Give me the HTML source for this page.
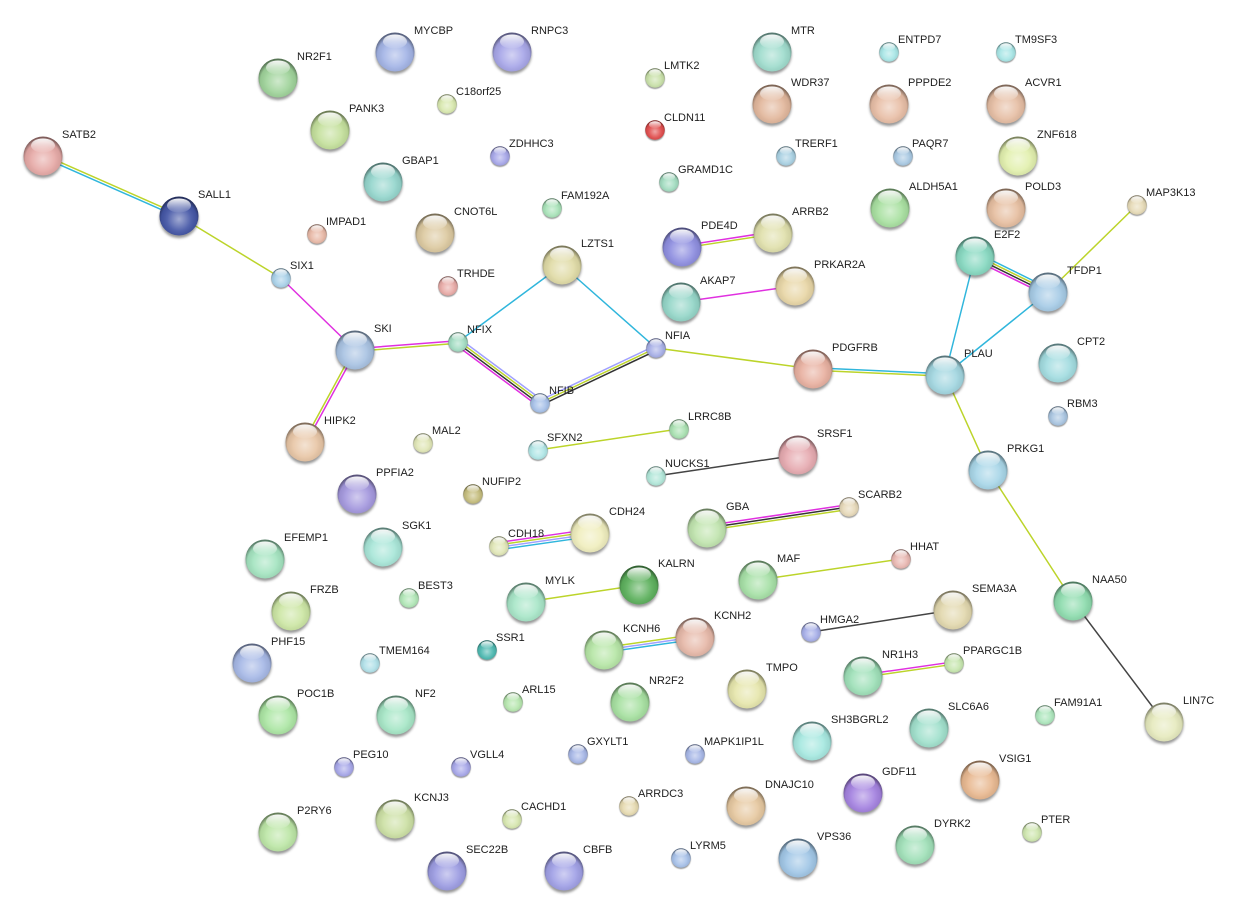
<!DOCTYPE html>
<html><head><meta charset="utf-8"><style>
html,body{margin:0;padding:0;background:#fff;}
svg{display:block;}
text{font-family:"Liberation Sans",Arial,sans-serif;font-size:11px;fill:#1e1e1e;}
</style></head><body>
<svg width="1234" height="916" viewBox="0 0 1234 916" xmlns="http://www.w3.org/2000/svg">
<defs>
<radialGradient id="sh" cx="50%" cy="58%" r="55%">
<stop offset="0" stop-color="#fff" stop-opacity="0.5"/>
<stop offset="0.55" stop-color="#fff" stop-opacity="0.08"/>
<stop offset="0.82" stop-color="#000" stop-opacity="0.06"/>
<stop offset="1" stop-color="#000" stop-opacity="0.45"/>
</radialGradient>
<linearGradient id="hl" x1="0" y1="0" x2="0" y2="1">
<stop offset="0" stop-color="#fff" stop-opacity="0.95"/>
<stop offset="1" stop-color="#fff" stop-opacity="0.05"/>
</linearGradient>
<filter id="bl" x="-50%" y="-50%" width="200%" height="200%"><feGaussianBlur stdDeviation="1.2"/></filter>
<g id="S"><circle cx="0" cy="2.6" r="19.5" fill="#333" opacity="0.5" filter="url(#bl)"/></g>
<g id="O"><circle r="19.5" fill="url(#sh)"/><ellipse cx="0" cy="-10.5" rx="12" ry="7" fill="url(#hl)"/></g>
</defs>

<g fill="none" stroke-width="1.5" stroke-linecap="round">
<line x1="43.5" y1="154.8" x2="179.5" y2="214.8" stroke="#bcd42a"/>
<line x1="42.5" y1="157.2" x2="178.5" y2="217.2" stroke="#30b6dc"/>
<line x1="179" y1="216" x2="281" y2="278" stroke="#bcd42a"/>
<line x1="281" y1="278" x2="355" y2="350" stroke="#e030e0"/>
<line x1="354.9" y1="348.7" x2="457.9" y2="340.7" stroke="#e030e0"/>
<line x1="355.1" y1="351.3" x2="458.1" y2="343.3" stroke="#bcd42a"/>
<line x1="353.9" y1="349.4" x2="303.9" y2="441.4" stroke="#bcd42a"/>
<line x1="356.1" y1="350.6" x2="306.1" y2="442.6" stroke="#e030e0"/>
<line x1="458" y1="342" x2="562" y2="265" stroke="#30b6dc"/>
<line x1="562" y1="265" x2="656" y2="348" stroke="#30b6dc"/>
<line x1="460.15" y1="339.11" x2="542.15" y2="400.11" stroke="#a0a0ff"/>
<line x1="458.72" y1="341.04" x2="540.72" y2="402.04" stroke="#bcd42a"/>
<line x1="457.28" y1="342.96" x2="539.28" y2="403.96" stroke="#333"/>
<line x1="455.85" y1="344.89" x2="537.85" y2="405.89" stroke="#e030e0"/>
<line x1="538.97" y1="400.83" x2="654.97" y2="345.83" stroke="#a0a0ff"/>
<line x1="540" y1="403" x2="656" y2="348" stroke="#bcd42a"/>
<line x1="541.03" y1="405.17" x2="657.03" y2="350.17" stroke="#333"/>
<line x1="656" y1="348" x2="813" y2="369" stroke="#bcd42a"/>
<line x1="813.05" y1="367.8" x2="945.05" y2="373.8" stroke="#30b6dc"/>
<line x1="812.95" y1="370.2" x2="944.95" y2="376.2" stroke="#bcd42a"/>
<line x1="945" y1="375" x2="975" y2="256" stroke="#30b6dc"/>
<line x1="945" y1="375" x2="1048" y2="292" stroke="#30b6dc"/>
<line x1="976.59" y1="252.77" x2="1049.59" y2="288.77" stroke="#30b6dc"/>
<line x1="975.53" y1="254.92" x2="1048.53" y2="290.92" stroke="#bcd42a"/>
<line x1="974.47" y1="257.08" x2="1047.47" y2="293.08" stroke="#333"/>
<line x1="973.41" y1="259.23" x2="1046.41" y2="295.23" stroke="#e030e0"/>
<line x1="1048" y1="292" x2="1137" y2="205" stroke="#bcd42a"/>
<line x1="945" y1="375" x2="988" y2="470" stroke="#bcd42a"/>
<line x1="988" y1="470" x2="1073" y2="601" stroke="#bcd42a"/>
<line x1="1073" y1="601" x2="1164" y2="722" stroke="#444"/>
<line x1="681.82" y1="245.81" x2="772.82" y2="231.81" stroke="#e030e0"/>
<line x1="682.18" y1="248.19" x2="773.18" y2="234.19" stroke="#bcd42a"/>
<line x1="681" y1="302" x2="795" y2="286" stroke="#e030e0"/>
<line x1="538" y1="450" x2="679" y2="429" stroke="#bcd42a"/>
<line x1="656" y1="476" x2="798" y2="455" stroke="#444"/>
<line x1="498.49" y1="542.44" x2="589.49" y2="529.44" stroke="#e030e0"/>
<line x1="498.83" y1="544.81" x2="589.83" y2="531.81" stroke="#bcd42a"/>
<line x1="499.17" y1="547.19" x2="590.17" y2="534.19" stroke="#a0a0ff"/>
<line x1="499.51" y1="549.56" x2="590.51" y2="536.56" stroke="#30b6dc"/>
<line x1="706.65" y1="525.63" x2="848.65" y2="504.63" stroke="#e030e0"/>
<line x1="707" y1="528" x2="849" y2="507" stroke="#333"/>
<line x1="707.35" y1="530.37" x2="849.35" y2="509.37" stroke="#bcd42a"/>
<line x1="526" y1="602" x2="639" y2="585" stroke="#bcd42a"/>
<line x1="758" y1="580" x2="901" y2="559" stroke="#bcd42a"/>
<line x1="603.66" y1="647.62" x2="694.66" y2="634.62" stroke="#bcd42a"/>
<line x1="604" y1="650" x2="695" y2="637" stroke="#a0a0ff"/>
<line x1="604.34" y1="652.38" x2="695.34" y2="639.38" stroke="#30b6dc"/>
<line x1="811" y1="632" x2="953" y2="610" stroke="#444"/>
<line x1="862.83" y1="674.81" x2="953.83" y2="661.81" stroke="#e030e0"/>
<line x1="863.17" y1="677.19" x2="954.17" y2="664.19" stroke="#bcd42a"/>
</g>

<!-- big nodes -->
<g transform="translate(278,78)"><use href="#S"/><circle r="19.5" fill="#9fd39a"/><use href="#O"/></g>
<g transform="translate(395,52)"><use href="#S"/><circle r="19.5" fill="#a3b4e6"/><use href="#O"/></g>
<g transform="translate(512,52)"><use href="#S"/><circle r="19.5" fill="#a7a6e8"/><use href="#O"/></g>
<g transform="translate(330,130)"><use href="#S"/><circle r="19.5" fill="#c4e09c"/><use href="#O"/></g>
<g transform="translate(43,156)"><use href="#S"/><circle r="19.5" fill="#e6a9a6"/><use href="#O"/></g>
<g transform="translate(383,182)"><use href="#S"/><circle r="19.5" fill="#95d6cd"/><use href="#O"/></g>
<g transform="translate(179,216)"><use href="#S"/><circle r="19.5" fill="#4456a6"/><use href="#O"/></g>
<g transform="translate(435,233)"><use href="#S"/><circle r="19.5" fill="#dcc9a0"/><use href="#O"/></g>
<g transform="translate(772,52)"><use href="#S"/><circle r="19.5" fill="#9fdccd"/><use href="#O"/></g>
<g transform="translate(772,104)"><use href="#S"/><circle r="19.5" fill="#e2b79c"/><use href="#O"/></g>
<g transform="translate(682,247)"><use href="#S"/><circle r="19.5" fill="#8e8ee0"/><use href="#O"/></g>
<g transform="translate(773,233)"><use href="#S"/><circle r="19.5" fill="#e0e0ac"/><use href="#O"/></g>
<g transform="translate(562,265)"><use href="#S"/><circle r="19.5" fill="#e0dba6"/><use href="#O"/></g>
<g transform="translate(681,302)"><use href="#S"/><circle r="19.5" fill="#94d6c8"/><use href="#O"/></g>
<g transform="translate(795,286)"><use href="#S"/><circle r="19.5" fill="#e8d6a6"/><use href="#O"/></g>
<g transform="translate(889,104)"><use href="#S"/><circle r="19.5" fill="#e8bea6"/><use href="#O"/></g>
<g transform="translate(1006,104)"><use href="#S"/><circle r="19.5" fill="#e6bea4"/><use href="#O"/></g>
<g transform="translate(1018,156)"><use href="#S"/><circle r="19.5" fill="#e2f0ae"/><use href="#O"/></g>
<g transform="translate(890,208)"><use href="#S"/><circle r="19.5" fill="#a8e0a0"/><use href="#O"/></g>
<g transform="translate(1006,208)"><use href="#S"/><circle r="19.5" fill="#e6bea0"/><use href="#O"/></g>
<g transform="translate(975,256)"><use href="#S"/><circle r="19.5" fill="#86d8c0"/><use href="#O"/></g>
<g transform="translate(1048,292)"><use href="#S"/><circle r="19.5" fill="#a6cbe6"/><use href="#O"/></g>
<g transform="translate(355,350)"><use href="#S"/><circle r="19.5" fill="#a8c2e2"/><use href="#O"/></g>
<g transform="translate(305,442)"><use href="#S"/><circle r="19.5" fill="#e8c6a6"/><use href="#O"/></g>
<g transform="translate(357,494)"><use href="#S"/><circle r="19.5" fill="#a498de"/><use href="#O"/></g>
<g transform="translate(265,559)"><use href="#S"/><circle r="19.5" fill="#a4e4c0"/><use href="#O"/></g>
<g transform="translate(383,547)"><use href="#S"/><circle r="19.5" fill="#a8e6d8"/><use href="#O"/></g>
<g transform="translate(291,611)"><use href="#S"/><circle r="19.5" fill="#cce6a4"/><use href="#O"/></g>
<g transform="translate(813,369)"><use href="#S"/><circle r="19.5" fill="#e8b0a0"/><use href="#O"/></g>
<g transform="translate(798,455)"><use href="#S"/><circle r="19.5" fill="#e6aab0"/><use href="#O"/></g>
<g transform="translate(590,533)"><use href="#S"/><circle r="19.5" fill="#f0eebe"/><use href="#O"/></g>
<g transform="translate(707,528)"><use href="#S"/><circle r="19.5" fill="#c0e4ae"/><use href="#O"/></g>
<g transform="translate(639,585)"><use href="#S"/><circle r="19.5" fill="#5cb05c"/><use href="#O"/></g>
<g transform="translate(758,580)"><use href="#S"/><circle r="19.5" fill="#a6e0a6"/><use href="#O"/></g>
<g transform="translate(526,602)"><use href="#S"/><circle r="19.5" fill="#a8e6c8"/><use href="#O"/></g>
<g transform="translate(945,375)"><use href="#S"/><circle r="19.5" fill="#a2d6e0"/><use href="#O"/></g>
<g transform="translate(1058,363)"><use href="#S"/><circle r="19.5" fill="#a2dce0"/><use href="#O"/></g>
<g transform="translate(988,470)"><use href="#S"/><circle r="19.5" fill="#a8d6e8"/><use href="#O"/></g>
<g transform="translate(953,610)"><use href="#S"/><circle r="19.5" fill="#e2d8ae"/><use href="#O"/></g>
<g transform="translate(1073,601)"><use href="#S"/><circle r="19.5" fill="#8edcae"/><use href="#O"/></g>
<g transform="translate(252,663)"><use href="#S"/><circle r="19.5" fill="#a6b8e6"/><use href="#O"/></g>
<g transform="translate(278,715)"><use href="#S"/><circle r="19.5" fill="#ace6a4"/><use href="#O"/></g>
<g transform="translate(396,715)"><use href="#S"/><circle r="19.5" fill="#a6e6c6"/><use href="#O"/></g>
<g transform="translate(395,819)"><use href="#S"/><circle r="19.5" fill="#cce0a4"/><use href="#O"/></g>
<g transform="translate(278,832)"><use href="#S"/><circle r="19.5" fill="#bce6a6"/><use href="#O"/></g>
<g transform="translate(604,650)"><use href="#S"/><circle r="19.5" fill="#b6e6a6"/><use href="#O"/></g>
<g transform="translate(695,637)"><use href="#S"/><circle r="19.5" fill="#e6b8a8"/><use href="#O"/></g>
<g transform="translate(747,689)"><use href="#S"/><circle r="19.5" fill="#e6e6ac"/><use href="#O"/></g>
<g transform="translate(630,702)"><use href="#S"/><circle r="19.5" fill="#a6e0a0"/><use href="#O"/></g>
<g transform="translate(812,741)"><use href="#S"/><circle r="19.5" fill="#a6e8e0"/><use href="#O"/></g>
<g transform="translate(746,806)"><use href="#S"/><circle r="19.5" fill="#e6c8a0"/><use href="#O"/></g>
<g transform="translate(447,871)"><use href="#S"/><circle r="19.5" fill="#9c9ce2"/><use href="#O"/></g>
<g transform="translate(564,871)"><use href="#S"/><circle r="19.5" fill="#a0a0e6"/><use href="#O"/></g>
<g transform="translate(798,858)"><use href="#S"/><circle r="19.5" fill="#a0c6e6"/><use href="#O"/></g>
<g transform="translate(863,676)"><use href="#S"/><circle r="19.5" fill="#9ee0b8"/><use href="#O"/></g>
<g transform="translate(929,728)"><use href="#S"/><circle r="19.5" fill="#a0e0cc"/><use href="#O"/></g>
<g transform="translate(1164,722)"><use href="#S"/><circle r="19.5" fill="#e6eabe"/><use href="#O"/></g>
<g transform="translate(980,780)"><use href="#S"/><circle r="19.5" fill="#e8b890"/><use href="#O"/></g>
<g transform="translate(863,793)"><use href="#S"/><circle r="19.5" fill="#a482e0"/><use href="#O"/></g>
<g transform="translate(915,845)"><use href="#S"/><circle r="19.5" fill="#a0e0b8"/><use href="#O"/></g>

<!-- small nodes -->
<g transform="translate(317,234) scale(0.5)"><use href="#S"/><circle r="19.5" fill="#e8b8a6"/><use href="#O"/></g>
<g transform="translate(281,278) scale(0.5)"><use href="#S"/><circle r="19.5" fill="#a8d0e8"/><use href="#O"/></g>
<g transform="translate(447,104) scale(0.5)"><use href="#S"/><circle r="19.5" fill="#d8e8ae"/><use href="#O"/></g>
<g transform="translate(655,78) scale(0.5)"><use href="#S"/><circle r="19.5" fill="#c8e0a8"/><use href="#O"/></g>
<g transform="translate(655,130) scale(0.5)"><use href="#S"/><circle r="19.5" fill="#e04c4c"/><use href="#O"/></g>
<g transform="translate(500,156) scale(0.5)"><use href="#S"/><circle r="19.5" fill="#a6a6e8"/><use href="#O"/></g>
<g transform="translate(786,156) scale(0.5)"><use href="#S"/><circle r="19.5" fill="#a8d0e2"/><use href="#O"/></g>
<g transform="translate(669,182) scale(0.5)"><use href="#S"/><circle r="19.5" fill="#a2dcc0"/><use href="#O"/></g>
<g transform="translate(552,208) scale(0.5)"><use href="#S"/><circle r="19.5" fill="#a8e2b8"/><use href="#O"/></g>
<g transform="translate(448,286) scale(0.5)"><use href="#S"/><circle r="19.5" fill="#e8aaa6"/><use href="#O"/></g>
<g transform="translate(889,52) scale(0.5)"><use href="#S"/><circle r="19.5" fill="#a8e6e6"/><use href="#O"/></g>
<g transform="translate(1006,52) scale(0.5)"><use href="#S"/><circle r="19.5" fill="#a8e6e6"/><use href="#O"/></g>
<g transform="translate(903,156) scale(0.5)"><use href="#S"/><circle r="19.5" fill="#a8c8e2"/><use href="#O"/></g>
<g transform="translate(1137,205) scale(0.5)"><use href="#S"/><circle r="19.5" fill="#e6dab6"/><use href="#O"/></g>
<g transform="translate(1058,416) scale(0.5)"><use href="#S"/><circle r="19.5" fill="#a8c4e0"/><use href="#O"/></g>
<g transform="translate(458,342) scale(0.5)"><use href="#S"/><circle r="19.5" fill="#a2dcc2"/><use href="#O"/></g>
<g transform="translate(656,348) scale(0.5)"><use href="#S"/><circle r="19.5" fill="#a6aee6"/><use href="#O"/></g>
<g transform="translate(540,403) scale(0.5)"><use href="#S"/><circle r="19.5" fill="#a6c0e8"/><use href="#O"/></g>
<g transform="translate(423,443) scale(0.5)"><use href="#S"/><circle r="19.5" fill="#e0e6b6"/><use href="#O"/></g>
<g transform="translate(679,429) scale(0.5)"><use href="#S"/><circle r="19.5" fill="#a8e0b0"/><use href="#O"/></g>
<g transform="translate(538,450) scale(0.5)"><use href="#S"/><circle r="19.5" fill="#b0e6e6"/><use href="#O"/></g>
<g transform="translate(656,476) scale(0.5)"><use href="#S"/><circle r="19.5" fill="#b0e6d8"/><use href="#O"/></g>
<g transform="translate(473,494) scale(0.5)"><use href="#S"/><circle r="19.5" fill="#c4bc7c"/><use href="#O"/></g>
<g transform="translate(499,546) scale(0.5)"><use href="#S"/><circle r="19.5" fill="#e0e6b6"/><use href="#O"/></g>
<g transform="translate(409,598) scale(0.5)"><use href="#S"/><circle r="19.5" fill="#b0e6b6"/><use href="#O"/></g>
<g transform="translate(849,507) scale(0.5)"><use href="#S"/><circle r="19.5" fill="#e6d8b8"/><use href="#O"/></g>
<g transform="translate(901,559) scale(0.5)"><use href="#S"/><circle r="19.5" fill="#e8b6b0"/><use href="#O"/></g>
<g transform="translate(370,663) scale(0.5)"><use href="#S"/><circle r="19.5" fill="#b0e0e8"/><use href="#O"/></g>
<g transform="translate(487,650) scale(0.5)"><use href="#S"/><circle r="19.5" fill="#4cb8b0"/><use href="#O"/></g>
<g transform="translate(811,632) scale(0.5)"><use href="#S"/><circle r="19.5" fill="#a6aee8"/><use href="#O"/></g>
<g transform="translate(513,702) scale(0.5)"><use href="#S"/><circle r="19.5" fill="#b6e6ae"/><use href="#O"/></g>
<g transform="translate(578,754) scale(0.5)"><use href="#S"/><circle r="19.5" fill="#a6b6e6"/><use href="#O"/></g>
<g transform="translate(695,754) scale(0.5)"><use href="#S"/><circle r="19.5" fill="#a6b6e6"/><use href="#O"/></g>
<g transform="translate(461,767) scale(0.5)"><use href="#S"/><circle r="19.5" fill="#a6a6e8"/><use href="#O"/></g>
<g transform="translate(344,767) scale(0.5)"><use href="#S"/><circle r="19.5" fill="#a6a6e8"/><use href="#O"/></g>
<g transform="translate(629,806) scale(0.5)"><use href="#S"/><circle r="19.5" fill="#e6dab0"/><use href="#O"/></g>
<g transform="translate(512,819) scale(0.5)"><use href="#S"/><circle r="19.5" fill="#d6e6ae"/><use href="#O"/></g>
<g transform="translate(681,858) scale(0.5)"><use href="#S"/><circle r="19.5" fill="#a6c0e8"/><use href="#O"/></g>
<g transform="translate(954,663) scale(0.5)"><use href="#S"/><circle r="19.5" fill="#c6e6ae"/><use href="#O"/></g>
<g transform="translate(1045,715) scale(0.5)"><use href="#S"/><circle r="19.5" fill="#ace6bc"/><use href="#O"/></g>
<g transform="translate(1032,832) scale(0.5)"><use href="#S"/><circle r="19.5" fill="#cee6ae"/><use href="#O"/></g>

<!-- labels big -->
<text x="297" y="60">NR2F1</text>
<text x="414" y="34">MYCBP</text>
<text x="531" y="34">RNPC3</text>
<text x="349" y="112">PANK3</text>
<text x="62" y="138">SATB2</text>
<text x="402" y="164">GBAP1</text>
<text x="198" y="198">SALL1</text>
<text x="454" y="215">CNOT6L</text>
<text x="791" y="34">MTR</text>
<text x="791" y="86">WDR37</text>
<text x="701" y="229">PDE4D</text>
<text x="792" y="215">ARRB2</text>
<text x="581" y="247">LZTS1</text>
<text x="700" y="284">AKAP7</text>
<text x="814" y="268">PRKAR2A</text>
<text x="908" y="86">PPPDE2</text>
<text x="1025" y="86">ACVR1</text>
<text x="1037" y="138">ZNF618</text>
<text x="909" y="190">ALDH5A1</text>
<text x="1025" y="190">POLD3</text>
<text x="994" y="238">E2F2</text>
<text x="1067" y="274">TFDP1</text>
<text x="374" y="332">SKI</text>
<text x="324" y="424">HIPK2</text>
<text x="376" y="476">PPFIA2</text>
<text x="284" y="541">EFEMP1</text>
<text x="402" y="529">SGK1</text>
<text x="310" y="593">FRZB</text>
<text x="832" y="351">PDGFRB</text>
<text x="817" y="437">SRSF1</text>
<text x="609" y="515">CDH24</text>
<text x="726" y="510">GBA</text>
<text x="658" y="567">KALRN</text>
<text x="777" y="562">MAF</text>
<text x="545" y="584">MYLK</text>
<text x="964" y="357">PLAU</text>
<text x="1077" y="345">CPT2</text>
<text x="1007" y="452">PRKG1</text>
<text x="972" y="592">SEMA3A</text>
<text x="1092" y="583">NAA50</text>
<text x="271" y="645">PHF15</text>
<text x="297" y="697">POC1B</text>
<text x="415" y="697">NF2</text>
<text x="414" y="801">KCNJ3</text>
<text x="297" y="814">P2RY6</text>
<text x="623" y="632">KCNH6</text>
<text x="714" y="619">KCNH2</text>
<text x="766" y="671">TMPO</text>
<text x="649" y="684">NR2F2</text>
<text x="831" y="723">SH3BGRL2</text>
<text x="765" y="788">DNAJC10</text>
<text x="466" y="853">SEC22B</text>
<text x="583" y="853">CBFB</text>
<text x="817" y="840">VPS36</text>
<text x="882" y="658">NR1H3</text>
<text x="948" y="710">SLC6A6</text>
<text x="1183" y="704">LIN7C</text>
<text x="999" y="762">VSIG1</text>
<text x="882" y="775">GDF11</text>
<text x="934" y="827">DYRK2</text>

<!-- labels small -->
<text x="326" y="225">IMPAD1</text>
<text x="290" y="269">SIX1</text>
<text x="456" y="95">C18orf25</text>
<text x="664" y="69">LMTK2</text>
<text x="664" y="121">CLDN11</text>
<text x="509" y="147">ZDHHC3</text>
<text x="795" y="147">TRERF1</text>
<text x="678" y="173">GRAMD1C</text>
<text x="561" y="199">FAM192A</text>
<text x="457" y="277">TRHDE</text>
<text x="898" y="43">ENTPD7</text>
<text x="1015" y="43">TM9SF3</text>
<text x="912" y="147">PAQR7</text>
<text x="1146" y="196">MAP3K13</text>
<text x="1067" y="407">RBM3</text>
<text x="467" y="333">NFIX</text>
<text x="665" y="339">NFIA</text>
<text x="549" y="394">NFIB</text>
<text x="432" y="434">MAL2</text>
<text x="688" y="420">LRRC8B</text>
<text x="547" y="441">SFXN2</text>
<text x="665" y="467">NUCKS1</text>
<text x="482" y="485">NUFIP2</text>
<text x="508" y="537">CDH18</text>
<text x="418" y="589">BEST3</text>
<text x="858" y="498">SCARB2</text>
<text x="910" y="550">HHAT</text>
<text x="379" y="654">TMEM164</text>
<text x="496" y="641">SSR1</text>
<text x="820" y="623">HMGA2</text>
<text x="522" y="693">ARL15</text>
<text x="587" y="745">GXYLT1</text>
<text x="704" y="745">MAPK1IP1L</text>
<text x="470" y="758">VGLL4</text>
<text x="353" y="758">PEG10</text>
<text x="638" y="797">ARRDC3</text>
<text x="521" y="810">CACHD1</text>
<text x="690" y="849">LYRM5</text>
<text x="963" y="654">PPARGC1B</text>
<text x="1054" y="706">FAM91A1</text>
<text x="1041" y="823">PTER</text>
</svg>
</body></html>
